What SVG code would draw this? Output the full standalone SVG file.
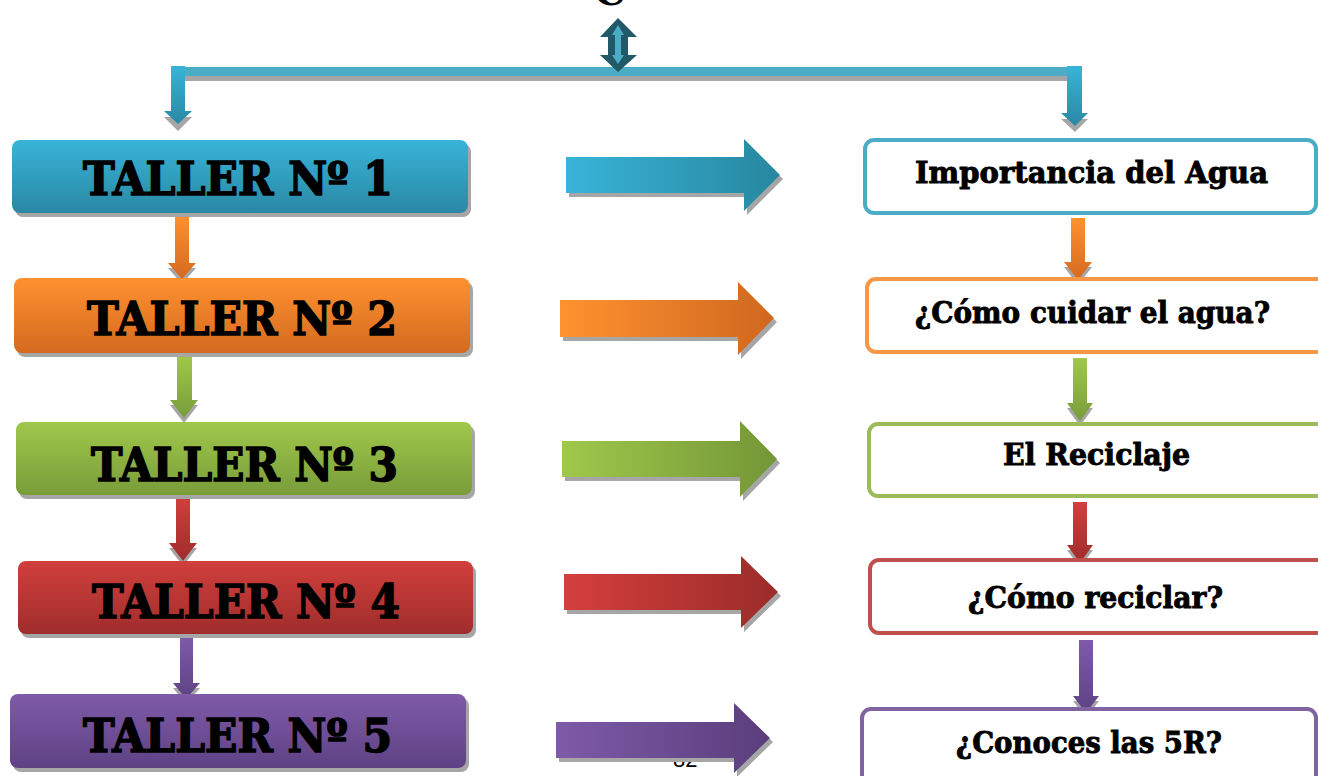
<svg xmlns="http://www.w3.org/2000/svg" width="1318" height="776" viewBox="0 0 1318 776">
<defs>
<linearGradient id="gBlueV" x1="0" y1="0" x2="0" y2="1"><stop offset="0" stop-color="#38b4d8"/><stop offset="1" stop-color="#2a88a4"/></linearGradient>
<linearGradient id="gOrangeV" x1="0" y1="0" x2="0" y2="1"><stop offset="0" stop-color="#ff912f"/><stop offset="1" stop-color="#d46a20"/></linearGradient>
<linearGradient id="gGreenV" x1="0" y1="0" x2="0" y2="1"><stop offset="0" stop-color="#a0c84b"/><stop offset="1" stop-color="#799c3a"/></linearGradient>
<linearGradient id="gRedV" x1="0" y1="0" x2="0" y2="1"><stop offset="0" stop-color="#d13f3c"/><stop offset="1" stop-color="#9f2d2c"/></linearGradient>
<linearGradient id="gPurpleV" x1="0" y1="0" x2="0" y2="1"><stop offset="0" stop-color="#7f5aa8"/><stop offset="1" stop-color="#5e4284"/></linearGradient>
<linearGradient id="gBlueH" x1="0" y1="0" x2="1" y2="0"><stop offset="0" stop-color="#38b4d8"/><stop offset="1" stop-color="#27879f"/></linearGradient>
<linearGradient id="gOrangeH" x1="0" y1="0" x2="1" y2="0"><stop offset="0" stop-color="#ff922f"/><stop offset="1" stop-color="#cf681f"/></linearGradient>
<linearGradient id="gGreenH" x1="0" y1="0" x2="1" y2="0"><stop offset="0" stop-color="#a0c84b"/><stop offset="1" stop-color="#749637"/></linearGradient>
<linearGradient id="gRedH" x1="0" y1="0" x2="1" y2="0"><stop offset="0" stop-color="#d43f3c"/><stop offset="1" stop-color="#9a2c2a"/></linearGradient>
<linearGradient id="gPurpleH" x1="0" y1="0" x2="1" y2="0"><stop offset="0" stop-color="#7f5aa8"/><stop offset="1" stop-color="#5a3e7c"/></linearGradient>
</defs>
<style>
.shadow{fill:#a6a6a6}
.ttl{font-family:"DejaVu Serif","Liberation Serif",serif;font-weight:bold;font-size:46px;fill:#000;stroke:#000;stroke-width:1.6}
.lbl{font-family:"DejaVu Serif","Liberation Serif",serif;font-weight:bold;font-size:29px;fill:#000;stroke:#000;stroke-width:0.9}
.rbox{fill:#fff;stroke-width:4}
.pg{font-family:"Liberation Sans",Arial,sans-serif;font-size:22px;fill:#000}
</style>
<rect width="1318" height="776" fill="#fff"/>
<text x="594" y="5" font-family="DejaVu Serif, serif" font-weight="bold" font-size="40">C</text>
<text class="pg" x="673" y="767">82</text>

<g id="connectors">
  <rect class="shadow" x="185" y="75" width="882" height="6"/>
  <rect x="178" y="67" width="896" height="9" fill="#4bacc6"/>
  <path class="shadow" d="M171,72 H185 V117 H192 L178,131 L164,117 H171 Z"/>
  <path fill="url(#gBlueV)" d="M171,66 H185 V111 H192 L178,124 L164,111 H171 Z"/>
  <path class="shadow" d="M1067,72 H1082 V119 H1088 L1075,132 L1061,119 H1067 Z"/>
  <path fill="url(#gBlueV)" d="M1067,66 H1082 V113 H1088 L1075,126 L1061,113 H1067 Z"/>
  <path fill="#215968" d="M618,18 L637,37 H628 V55 H637 L618,72 L600,55 H608 V37 H600 Z"/>
  <path fill="#4bacc6" d="M618,25 L624,35 H621 V55 H624 L618,64 L612,55 H615 V35 H612 Z"/>

  <path class="shadow" d="M175,218 H189 V268 H196 L182,284 L168,268 H175 Z"/>
  <path fill="url(#gOrangeV)" d="M175,213 H189 V263 H196 L182,279 L168,263 H175 Z"/>
  <path class="shadow" d="M177,360 H192 V405 H198 L184,423 L170,405 H177 Z"/>
  <path fill="url(#gGreenV)" d="M177,355 H192 V400 H198 L184,418 L170,400 H177 Z"/>
  <path class="shadow" d="M176,502 H190 V548 H197 L183,566 L169,548 H176 Z"/>
  <path fill="url(#gRedV)" d="M176,497 H190 V543 H197 L183,561 L169,543 H176 Z"/>
  <path class="shadow" d="M180,641 H193 V688 H200 L186,704 L173,688 H180 Z"/>
  <path fill="url(#gPurpleV)" d="M180,636 H193 V683 H200 L186,699 L173,683 H180 Z"/>

  <path class="shadow" d="M1071,223 H1085 V267 H1092 L1078,285 L1064,267 H1071 Z"/>
  <path fill="url(#gOrangeV)" d="M1071,218 H1085 V262 H1092 L1078,280 L1064,262 H1071 Z"/>
  <path class="shadow" d="M1073,363 H1087 V408 H1093 L1080,426 L1067,408 H1073 Z"/>
  <path fill="url(#gGreenV)" d="M1073,358 H1087 V403 H1093 L1080,421 L1067,403 H1073 Z"/>
  <path class="shadow" d="M1073,507 H1087 V550 H1093 L1080,568 L1067,550 H1073 Z"/>
  <path fill="url(#gRedV)" d="M1073,502 H1087 V545 H1093 L1080,563 L1067,545 H1073 Z"/>
  <path class="shadow" d="M1079,645 H1093 V701 H1099 L1086,718 L1073,701 H1079 Z"/>
  <path fill="url(#gPurpleV)" d="M1079,640 H1093 V696 H1099 L1086,713 L1073,696 H1079 Z"/>

  <path class="shadow" d="M569,161 H747 V143 L783,179 L747,215 V197 H569 Z"/>
  <path fill="url(#gBlueH)" d="M566,157 H744 V139 L780,175 L744,211 V193 H566 Z"/>
  <path class="shadow" d="M563,304 H741 V286 L777,322 L741,359 V341 H563 Z"/>
  <path fill="url(#gOrangeH)" d="M560,300 H738 V282 L774,318 L738,355 V337 H560 Z"/>
  <path class="shadow" d="M565,445 H743 V425 L780,463 L743,501 V481 H565 Z"/>
  <path fill="url(#gGreenH)" d="M562,441 H740 V421 L777,459 L740,497 V477 H562 Z"/>
  <path class="shadow" d="M567,578 H744 V560 L781,596 L744,632 V614 H567 Z"/>
  <path fill="url(#gRedH)" d="M564,574 H741 V556 L778,592 L741,628 V610 H564 Z"/>
  <path class="shadow" d="M559,726 H737 V707 L773,742 L737,777 V762 H559 Z"/>
  <path fill="url(#gPurpleH)" d="M556,722 H734 V703 L770,738 L734,773 V758 H556 Z"/>
</g>

<g id="taller1">
  <rect class="shadow" x="15" y="144" width="456" height="73" rx="8"/>
  <rect x="12" y="140" width="456" height="73" rx="8" fill="url(#gBlueV)"/>
  <text class="ttl" x="83" y="195" textLength="310" lengthAdjust="spacingAndGlyphs">TALLER Nº 1</text>
</g>
<g id="taller2">
  <rect class="shadow" x="17" y="282" width="456" height="75" rx="8"/>
  <rect x="14" y="278" width="456" height="75" rx="8" fill="url(#gOrangeV)"/>
  <text class="ttl" x="87" y="335" textLength="310" lengthAdjust="spacingAndGlyphs">TALLER Nº 2</text>
</g>
<g id="taller3">
  <rect class="shadow" x="19" y="426" width="456" height="73" rx="8"/>
  <rect x="16" y="422" width="456" height="73" rx="8" fill="url(#gGreenV)"/>
  <text class="ttl" x="91" y="481" textLength="307" lengthAdjust="spacingAndGlyphs">TALLER Nº 3</text>
</g>
<g id="taller4">
  <rect class="shadow" x="21" y="565" width="455" height="73" rx="8"/>
  <rect x="18" y="561" width="455" height="73" rx="8" fill="url(#gRedV)"/>
  <text class="ttl" x="92" y="618" textLength="308" lengthAdjust="spacingAndGlyphs">TALLER Nº 4</text>
</g>
<g id="taller5">
  <rect class="shadow" x="13" y="698" width="456" height="74" rx="8"/>
  <rect x="10" y="694" width="456" height="74" rx="8" fill="url(#gPurpleV)"/>
  <text class="ttl" x="83" y="752" textLength="309" lengthAdjust="spacingAndGlyphs">TALLER Nº 5</text>
</g>

<g id="tema1">
  <rect class="rbox" x="865" y="140" width="451" height="73" rx="9" stroke="#4bacc6"/>
  <text class="lbl" x="915" y="183" textLength="353" lengthAdjust="spacingAndGlyphs">Importancia del Agua</text>
</g>
<g id="tema2">
  <rect class="rbox" x="867" y="279" width="460" height="73" rx="9" stroke="#f79646"/>
  <text class="lbl" x="915" y="323" textLength="355" lengthAdjust="spacingAndGlyphs">¿Cómo cuidar el agua?</text>
</g>
<g id="tema3">
  <rect class="rbox" x="869" y="424" width="460" height="72" rx="9" stroke="#9bbb59"/>
  <text class="lbl" x="1003" y="465" textLength="187" lengthAdjust="spacingAndGlyphs">El Reciclaje</text>
</g>
<g id="tema4">
  <rect class="rbox" x="870" y="560" width="460" height="73" rx="9" stroke="#c0504d"/>
  <text class="lbl" x="968" y="608" textLength="255" lengthAdjust="spacingAndGlyphs">¿Cómo reciclar?</text>
</g>
<g id="tema5">
  <rect class="rbox" x="862" y="709" width="454" height="80" rx="9" stroke="#8064a2"/>
  <text class="lbl" x="956" y="753" textLength="266" lengthAdjust="spacingAndGlyphs">¿Conoces las 5R?</text>
</g>
</svg>
